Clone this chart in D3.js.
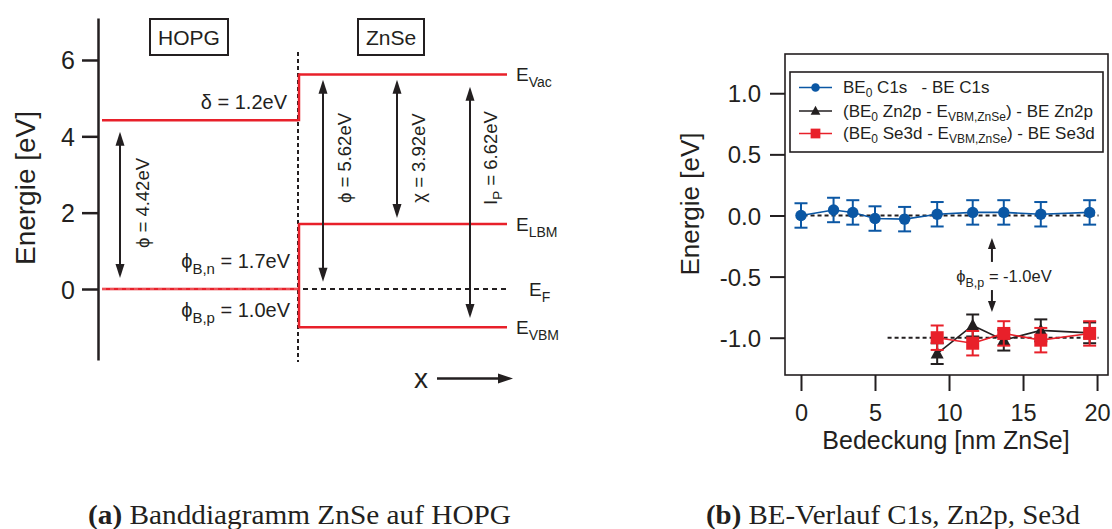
<!DOCTYPE html>
<html><head><meta charset="utf-8">
<script src="https://cdn.jsdelivr.net/npm/d3@7"></script>
<style>
body{margin:0;background:#fff}
svg{display:block}
text{font-family:"Liberation Sans",Arial,sans-serif;fill:#231f20;white-space:pre}
</style>
</head><body>
<script>
// ---------- Panel (a): band diagram ----------
const energyTicksA = [0, 2, 4, 6];
const hopgWorkLevel = 4.42;          // HOPG vacuum-referenced level
const hopgFermi = 0;
const znseLevelNames = ["Vac", "LBM", "F", "VBM"];
const znseLevels = [5.62, 1.7, 0, -1.0];
const arrowLabels = ["ϕ = 4.42eV", "ϕ = 5.62eV", "χ = 3.92eV", "I_P = 6.62eV"];
const arrowTops = [4.12, 5.48, 5.48, 5.30];
const arrowBottoms = [0.29, 0.19, 1.86, -0.76];
const materialLabels = ["HOPG", "ZnSe"];

// ---------- Panel (b): BE course ----------
const coverage = [0, 2.2, 3.5, 5.0, 7.0, 9.2, 11.6, 13.7, 16.2, 19.5];
const c1s = [0.00, 0.045, 0.025, -0.025, -0.03, 0.01, 0.025, 0.025, 0.01, 0.025];
const c1sErr = [0.1, 0.1, 0.1, 0.1, 0.1, 0.1, 0.1, 0.1, 0.1, 0.1];
const coverageZnSe = [9.2, 11.6, 13.7, 16.2, 19.5];
const zn2p = [-1.13, -0.90, -1.02, -0.94, -0.96];
const zn2pErr = [0.085, 0.09, 0.085, 0.09, 0.085];
const se3d = [-1.00, -1.045, -0.965, -1.02, -0.965];
const se3dErr = [0.1, 0.1, 0.1, 0.1, 0.1];
const xTicksB = [0, 5, 10, 15, 20];
const yTicksB = [-1.0, -0.5, 0.0, 0.5, 1.0];

const RED = "#e8202a", BLUE = "#0b57a4", BLACK = "#231f20";

const svg = d3.select("body").append("svg").attr("width", 1112).attr("height", 529);
svg.append("rect").attr("width", 1112).attr("height", 529).attr("fill", "#fff");

function rich(g, x, y, parts, size, anchor, subSize, subDy, transform) {
  const t = g.append("text").attr("x", x).attr("y", y)
    .attr("font-size", size).attr("text-anchor", anchor || "start");
  if (transform) t.attr("transform", transform);
  let shift = 0;
  parts.forEach(p => {
    const isSub = p[1] === "sub";
    const target = isSub ? subDy : 0;
    t.append("tspan").attr("dy", target - shift)
      .attr("font-size", isSub ? subSize : size).text(p[0]);
    shift = target;
  });
  return t;
}
function parseLabel(s) {
  const m = s.match(/^(.)_(\S+)(.*)$/);
  if (!m) return [[s]];
  return [[m[1]], [m[2], "sub"], [m[3]]];
}
function vArrow(g, x, y1, y2, color, hw, hl, lw) {
  g.append("line").attr("x1", x).attr("x2", x).attr("y1", y1 + hl - 1).attr("y2", y2 - hl + 1)
    .attr("stroke", color).attr("stroke-width", lw);
  g.append("path").attr("d", `M${x},${y1} L${x - hw},${y1 + hl} L${x + hw},${y1 + hl} Z`).attr("fill", color);
  g.append("path").attr("d", `M${x},${y2} L${x - hw},${y2 - hl} L${x + hw},${y2 - hl} Z`).attr("fill", color);
}

// ===== Panel (a) =====
const ga = svg.append("g");
const yA = d3.scaleLinear().domain([-1.86, 7.1]).range([360, 18]);
const axisX = 98, interfaceX = 298, leftStart = 102, rightEnd = 507;

const axA = d3.axisLeft(yA).tickValues(energyTicksA).tickSize(16).tickSizeOuter(0).tickPadding(7).tickFormat(d3.format("d"));
const axGA = ga.append("g").attr("transform", `translate(${axisX},0)`).call(axA);
axGA.select(".domain").attr("stroke", BLACK).attr("stroke-width", 2.5);
axGA.selectAll(".tick line").attr("stroke", BLACK).attr("stroke-width", 2.5);
axGA.selectAll(".tick text").attr("font-size", 25).attr("font-family", "Liberation Sans").attr("fill", BLACK).attr("dy", "0.36em");

ga.append("text").attr("transform", `translate(35,188) rotate(-90)`).attr("text-anchor", "middle")
  .attr("font-size", 28).text("Energie [eV]");

const boxes = [{x0: 150, x1: 228}, {x0: 358, x1: 424}];
materialLabels.forEach((m, i) => {
  const b = boxes[i];
  ga.append("rect").attr("x", b.x0).attr("y", 19).attr("width", b.x1 - b.x0).attr("height", 36)
    .attr("fill", "none").attr("stroke", BLACK).attr("stroke-width", 2);
  ga.append("text").attr("x", (b.x0 + b.x1) / 2).attr("y", 44.5).attr("text-anchor", "middle")
    .attr("font-size", 21).text(m);
});

ga.append("line").attr("x1", interfaceX).attr("x2", interfaceX).attr("y1", 52).attr("y2", 362)
  .attr("stroke", BLACK).attr("stroke-width", 2).attr("stroke-dasharray", "4,3");

ga.append("line").attr("x1", leftStart).attr("x2", interfaceX).attr("y1", yA(hopgWorkLevel)).attr("y2", yA(hopgWorkLevel))
  .attr("stroke", RED).attr("stroke-width", 2.5);
ga.append("line").attr("x1", leftStart).attr("x2", interfaceX).attr("y1", yA(hopgFermi)).attr("y2", yA(hopgFermi))
  .attr("stroke", RED).attr("stroke-width", 2.5);
ga.append("line").attr("x1", leftStart).attr("x2", interfaceX).attr("y1", yA(hopgFermi)).attr("y2", yA(hopgFermi))
  .attr("stroke", "#f4a0a0").attr("stroke-width", 0.8).attr("stroke-dasharray", "4,4");

const vx = interfaceX + 1;
ga.append("line").attr("x1", vx).attr("x2", vx).attr("y1", yA(hopgWorkLevel) + 1).attr("y2", yA(znseLevels[0]) - 1)
  .attr("stroke", RED).attr("stroke-width", 2.5);
ga.append("line").attr("x1", vx).attr("x2", vx).attr("y1", yA(znseLevels[1]) - 1).attr("y2", yA(znseLevels[3]) + 1)
  .attr("stroke", RED).attr("stroke-width", 2.5);

znseLevels.forEach((e, i) => {
  const isF = znseLevelNames[i] === "F";
  ga.append("line").attr("x1", isF ? 303 : vx).attr("x2", rightEnd).attr("y1", yA(e)).attr("y2", yA(e))
    .attr("stroke", isF ? BLACK : RED).attr("stroke-width", isF ? 2 : 2.5)
    .attr("stroke-dasharray", isF ? "5,4" : null);
  const lx = isF ? 529 : 516;
  rich(ga, lx, yA(e) + 7, [["E"], [znseLevelNames[i], "sub"]], 19, "start", 14, 6);
});

ga.append("text").attr("x", 287).attr("y", 109).attr("text-anchor", "end").attr("font-size", 20).text("δ = 1.2eV");
rich(ga, 290, 268, [["ϕ"], ["B,n", "sub"], [" = 1.7eV"]], 20, "end", 15, 6);
rich(ga, 290, 317, [["ϕ"], ["B,p", "sub"], [" = 1.0eV"]], 20, "end", 15, 6);

const arrowX = [120, 323, 397, 470];
const labelX = [149, 351, 425, 497];
arrowLabels.forEach((lab, i) => {
  vArrow(ga, arrowX[i], yA(arrowTops[i]), yA(arrowBottoms[i]), BLACK, 4.5, 14, 2);
  const cy = i === 0 ? 203 : 158;
  rich(ga, 0, 0, parseLabel(lab), 18.5, "middle", 13.5, 5, `translate(${labelX[i]},${cy}) rotate(-90)`);
});

ga.append("text").attr("x", 421).attr("y", 388).attr("text-anchor", "middle").attr("font-size", 28).text("x");
ga.append("line").attr("x1", 437).attr("x2", 500).attr("y1", 378.5).attr("y2", 378.5).attr("stroke", BLACK).attr("stroke-width", 2.5);
ga.append("path").attr("d", "M513,378.5 L498,373.5 L498,383.5 Z").attr("fill", BLACK);

// ===== Panel (b) =====
const gb = svg.append("g");
const L = 785, R = 1108, T = 54, B = 375;
const xB = d3.scaleLinear().domain([-1.08, 20.74]).range([L, R]);
const yB = d3.scaleLinear().domain([-1.305, 1.321]).range([B, T]);

gb.append("rect").attr("x", L).attr("y", T).attr("width", R - L).attr("height", B - T)
  .attr("fill", "none").attr("stroke", BLACK).attr("stroke-width", 1.6);

const axYB = gb.append("g").attr("transform", `translate(${L},0)`)
  .call(d3.axisLeft(yB).tickValues(yTicksB).tickSize(15).tickPadding(9).tickFormat(d3.format(".1f")));
axYB.select(".domain").remove();
axYB.selectAll(".tick line").attr("stroke", BLACK).attr("stroke-width", 2);
axYB.selectAll(".tick text").attr("font-size", 24).attr("font-family", "Liberation Sans").attr("fill", BLACK).attr("dy", "0.36em")
  .text(d => d3.format(".1f")(d).replace("−", "-"));

const axXB = gb.append("g").attr("transform", `translate(0,${B})`)
  .call(d3.axisBottom(xB).tickValues(xTicksB).tickSize(16).tickPadding(13).tickFormat(d3.format("d")));
axXB.select(".domain").remove();
axXB.selectAll(".tick line").attr("stroke", BLACK).attr("stroke-width", 2);
axXB.selectAll(".tick text").attr("font-size", 23.5).attr("font-family", "Liberation Sans").attr("fill", BLACK);

gb.append("text").attr("x", 946).attr("y", 449).attr("text-anchor", "middle").attr("font-size", 25).text("Bedeckung [nm ZnSe]");
gb.append("text").attr("transform", `translate(699,204) rotate(-90)`).attr("text-anchor", "middle").attr("font-size", 26).text("Energie [eV]");

gb.append("line").attr("x1", xB(-0.3)).attr("x2", xB(20.1)).attr("y1", yB(0)).attr("y2", yB(0))
  .attr("stroke", BLACK).attr("stroke-width", 2).attr("stroke-dasharray", "4,3");
gb.append("line").attr("x1", xB(5.85)).attr("x2", xB(20.1)).attr("y1", yB(-1)).attr("y2", yB(-1))
  .attr("stroke", BLACK).attr("stroke-width", 2).attr("stroke-dasharray", "4,3");

const annX = xB(12.9);
function singleArrow(g, x, yTail, yTip) {
  const dir = yTip < yTail ? 1 : -1;
  g.append("line").attr("x1", x).attr("x2", x).attr("y1", yTail).attr("y2", yTip + dir * 8)
    .attr("stroke", BLACK).attr("stroke-width", 2);
  g.append("path").attr("d", `M${x},${yTip} L${x - 4},${yTip + dir * 11} L${x + 4},${yTip + dir * 11} Z`).attr("fill", BLACK);
}
singleArrow(gb, annX, yB(-0.38), yB(-0.185));
singleArrow(gb, annX, yB(-0.61), yB(-0.79));
rich(gb, 1004, 281.5, [["ϕ"], ["B,p", "sub"], [" = -1.0eV"]], 16.5, "middle", 12.5, 5);

function series(g, xs, ys, errs, color, shape) {
  const line = d3.line().x((d, i) => xB(xs[i])).y(d => yB(d));
  g.append("path").attr("d", line(ys)).attr("fill", "none").attr("stroke", color).attr("stroke-width", 1.6);
  ys.forEach((v, i) => {
    const x = xB(xs[i]);
    const y1 = yB(v + errs[i]), y2 = yB(v - errs[i]);
    g.append("line").attr("x1", x).attr("x2", x).attr("y1", y1).attr("y2", y2).attr("stroke", color).attr("stroke-width", 2);
    [y1, y2].forEach(yy => g.append("line").attr("x1", x - 6.5).attr("x2", x + 6.5).attr("y1", yy).attr("y2", yy)
      .attr("stroke", color).attr("stroke-width", 2));
    marker(g, x, yB(v), color, shape, 1);
  });
}
function marker(g, x, y, color, shape, s) {
  if (shape === "circle") g.append("circle").attr("cx", x).attr("cy", y).attr("r", 5.7 * s).attr("fill", color);
  else if (shape === "square") g.append("rect").attr("x", x - 6.5 * s).attr("y", y - 6.5 * s).attr("width", 13 * s).attr("height", 13 * s).attr("fill", color);
  else g.append("path").attr("d", `M${x},${y - 7 * s} L${x - 6.5 * s},${y + 5 * s} L${x + 6.5 * s},${y + 5 * s} Z`).attr("fill", color);
}

series(gb, coverage, c1s, c1sErr, BLUE, "circle");
series(gb, coverageZnSe, zn2p, zn2pErr, BLACK, "triangle");
series(gb, coverageZnSe, se3d, se3dErr, RED, "square");

const lg = gb.append("g");
lg.append("rect").attr("x", 790).attr("y", 72).attr("width", 313).attr("height", 80)
  .attr("fill", "#fff").attr("stroke", BLACK).attr("stroke-width", 1.6);
const legendItems = [
  {color: BLUE, shape: "circle", parts: [["BE"], ["0", "sub"], [" C1s   - BE C1s"]]},
  {color: BLACK, shape: "triangle", parts: [["(BE"], ["0", "sub"], [" Zn2p - E"], ["VBM,ZnSe", "sub"], [") - BE Zn2p"]]},
  {color: RED, shape: "square", parts: [["(BE"], ["0", "sub"], [" Se3d - E"], ["VBM,ZnSe", "sub"], [") - BE Se3d"]]}
];
const rowY = [87.5, 111, 133.5];
legendItems.forEach((it, i) => {
  lg.append("line").attr("x1", 799).attr("x2", 832).attr("y1", rowY[i]).attr("y2", rowY[i]).attr("stroke", it.color).attr("stroke-width", 1.6);
  marker(lg, 815.5, rowY[i], it.color, it.shape, 0.75);
  rich(lg, 843, rowY[i] + 5.5, it.parts, 17, "start", 12, 4);
});

// ===== captions =====
const capA = svg.append("text").attr("x", 88).attr("y", 524).attr("font-size", 27)
  .attr("textLength", 423).attr("lengthAdjust", "spacingAndGlyphs").style("font-family", "'Liberation Serif',serif");
capA.append("tspan").attr("font-weight", "bold").text("(a)");
capA.append("tspan").text(" Banddiagramm ZnSe auf HOPG");
const capB = svg.append("text").attr("x", 706).attr("y", 524).attr("font-size", 27)
  .attr("textLength", 374).attr("lengthAdjust", "spacingAndGlyphs").style("font-family", "'Liberation Serif',serif");
capB.append("tspan").attr("font-weight", "bold").text("(b)");
capB.append("tspan").text(" BE-Verlauf C1s, Zn2p, Se3d");
</script>
</body></html>
